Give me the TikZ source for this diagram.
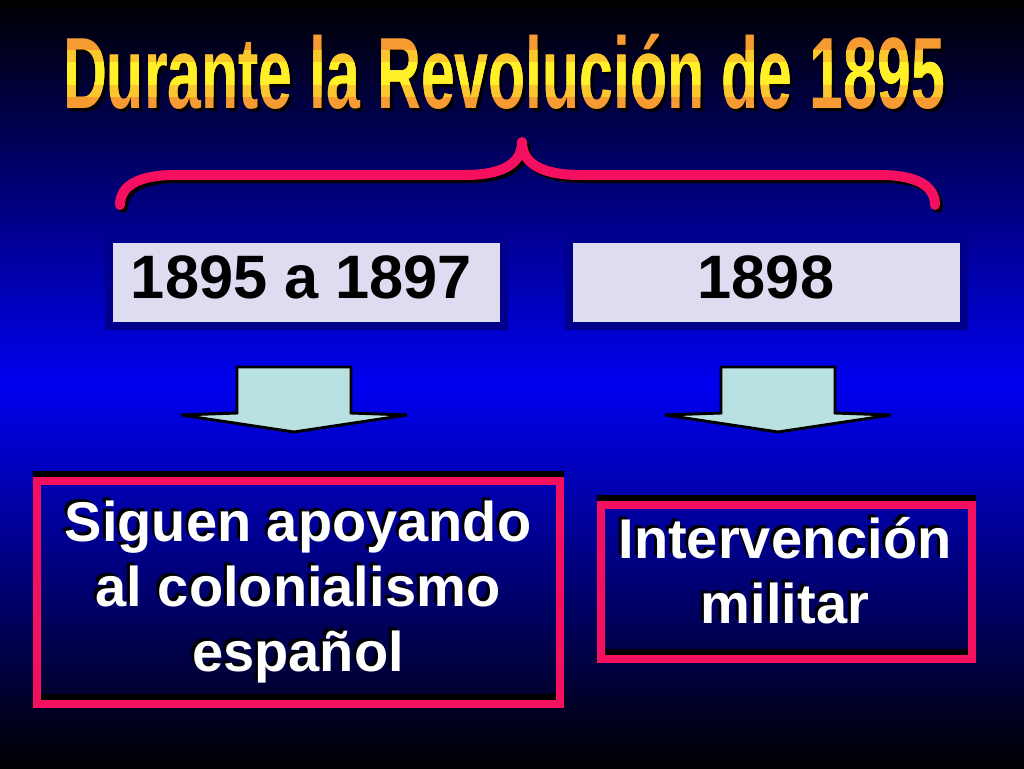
\documentclass[tikz,border=0pt]{standalone}
\usepackage{graphicx}
\usepackage{fontspec}
\setmainfont{Liberation Sans}
\definecolor{bgblue}{RGB}{0,0,240}
\definecolor{bracepink}{RGB}{245,15,95}
\definecolor{datefill}{RGB}{222,220,240}
\definecolor{dateedge}{RGB}{0,0,140}
\definecolor{arrowfill}{RGB}{185,225,225}
\definecolor{titleorange}{RGB}{245,155,50}
\definecolor{titlemid}{RGB}{250,200,45}
\definecolor{titleyellow}{RGB}{255,240,40}
\newcommand{\titleline}{\scalebox{0.6}[1]{Durante la Revoluci\'on de 1895}}

\begin{document}
\begin{tikzpicture}[x=0.75pt, y=-0.75pt,
    titlefont/.style={font=\fontsize{76}{80}\selectfont\bfseries, inner sep=0pt, anchor=base},
    datebox/.style={draw=dateedge, fill=datefill, line width=6pt, inner sep=0pt, minimum width=296pt, minimum height=65pt},
    datetext/.style={font=\fontsize{46}{49}\selectfont\bfseries, text=black, inner sep=0pt, anchor=base},
    eventbox/.style={draw=bracepink, line width=6pt, inner sep=0pt},
    eventshadow/.style={draw=black, line width=6pt, inner sep=0pt},
    eventtext/.style={font=\fontsize{42}{49}\selectfont\bfseries, text=white, align=center, inner sep=0pt},
    blockarrow/.style={draw=black, fill=arrowfill, line width=2.2pt, line join=miter},
    bracestroke/.style={line width=7.5pt, line cap=round, line join=round}]
    \useasboundingbox (0,0) rectangle (1024,768);
    \shade[top color=black, bottom color=black, middle color=bgblue] (0,0) rectangle (1024,768);

    %Title
    \node[titlefont, text=black] (titleshadow) at (507,111) {\titleline};
    \node[titlefont, text=titleorange] (title) at (504,108) {\titleline};
    \begin{scope}
      \clip (0,50) rectangle (1024,96);
      \node[titlefont, text=titlemid] (titlemidband) at (504,108) {\titleline};
    \end{scope}
    \begin{scope}
      \clip (0,62) rectangle (1024,84);
      \node[titlefont, text=titleyellow] (titletopband) at (504,108) {\titleline};
    \end{scope}

    %Brace
    \foreach \dx/\col in {3/black, 0/bracepink}
      \draw[bracestroke, draw=\col, shift={(\dx,\dx)}]
        (120,205) .. controls (120,185) and (140,175) .. (175,175) -- (465,175)
        .. controls (500,175) and (522,165) .. (522,142)
        .. controls (522,165) and (545,175) .. (580,175) -- (880,175)
        .. controls (915,175) and (935,185) .. (935,205);

    %Nodes
    \node[datebox] (early) at (306.5,282.5) {};
    \node[datebox] (late) at (766.5,282.5) {};
    \node[datetext] (earlylabel) at (301.5,298) {1895 a 1897};
    \node[datetext] (latelabel) at (766,298) {1898};

    % %Arrows
    \foreach \cx in {294,778}
      \draw[blockarrow] (\cx-57,367) -- (\cx+57,367) -- (\cx+57,413) -- (\cx+113,415)
        -- (\cx,432) -- (\cx-113,415) -- (\cx-57,413) -- cycle;

    %Boxes
    \node[eventshadow, minimum width=392pt, minimum height=167pt] (supportshadow) at (298.5,586.5) {};
    \node[eventbox, minimum width=392pt, minimum height=167pt] (support) at (298.5,592.5) {};
    \node[eventshadow, minimum width=278pt, minimum height=115.5pt] (interventionshadow) at (786.5,576) {};
    \node[eventbox, minimum width=278pt, minimum height=115.5pt] (intervention) at (786.5,582) {};

    \node[eventtext, text=black] (supportlabelshadow) at (295,589) {Siguen apoyando\\al colonialismo\\espa\~nol};
    \node[eventtext] (supportlabel) at (298,592) {Siguen apoyando\\al colonialismo\\espa\~nol};
    \node[eventtext, text=black] (interventionlabelshadow) at (782,568) {Intervenci\'on\\militar};
    \node[eventtext] (interventionlabel) at (785,571) {Intervenci\'on\\militar};
  \end{tikzpicture}
\end{document}
